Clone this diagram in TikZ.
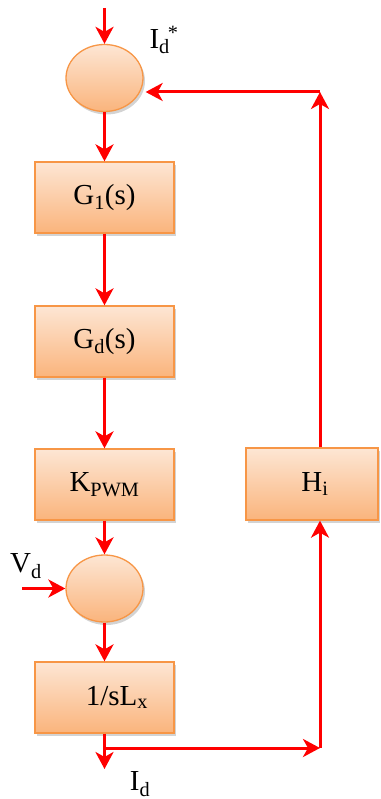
\documentclass[tikz,border=0pt]{standalone}
\usepackage{fontspec}
\setmainfont{Liberation Serif}
\usetikzlibrary{arrows.meta,shadows,shapes.geometric}
\definecolor{bord}{RGB}{247,150,70}
\definecolor{ftop}{RGB}{253,230,212}
\definecolor{fbot}{RGB}{250,180,124}
\definecolor{sig}{RGB}{255,0,0}
\begin{document}
\begin{tikzpicture}[x=1pt,y=-1pt,
  blk/.style={rectangle,draw=bord,line width=1.3pt,top color=ftop,bottom color=fbot,
    minimum width=139pt,minimum height=71pt,inner sep=0pt,
    drop shadow={opacity=0.35,shadow xshift=2pt,shadow yshift=-3pt},
    font=\fontsize{29}{32}\selectfont},
  sumc/.style={ellipse,draw=bord,line width=1.3pt,top color=ftop,bottom color=fbot,
    minimum width=77pt,minimum height=67pt,inner sep=0pt,
    drop shadow={opacity=0.35,shadow xshift=2pt,shadow yshift=-3pt}},
  lbl/.style={font=\fontsize{29}{32}\selectfont,inner sep=0pt},
  sigline/.style={draw=sig,line width=3pt},
  arr/.style={sigline,-{Stealth[length=17pt,width=18pt,inset=5pt]}}
]
\useasboundingbox (0,0) rectangle (380,799);
\node[sumc] (s1) at (104.5,78) {};
\node[blk] (g1) at (104.5,197.5) {G\textsubscript{1}(s)};
\node[blk] (gd) at (104.5,341.5) {G\textsubscript{d}(s)};
\node[blk] (kp) at (104.5,484.5) {K\textsubscript{PWM}};
\node[sumc] (s2) at (104.5,588.5) {};
\node[blk] (lx) at (104.5,697.5) {\hspace*{25pt}1/sL\textsubscript{x}};
\node[blk,minimum width=132pt,minimum height=72pt] (hi) at (312,484) {\hspace*{6pt}H\textsubscript{i}};

\coordinate (tin) at (104.5,8);
\coordinate (vin) at (22,588.5);
\coordinate (out) at (104.5,769);
\coordinate (br) at (104.5,748);
\coordinate (c2) at (320,748);
\coordinate (c1) at (320,92);

\node[lbl] (lid) at (164,40) {I\textsubscript{d}\kern-2pt\textsuperscript{*}};
\node[lbl] (lvd) at (26,566) {V\textsubscript{d}};
\node[lbl] (lio) at (140,784) {I\textsubscript{d}};

\draw[arr] (tin) -- (s1.north);
\draw[arr] (s1.south) -- (g1.north);
\draw[arr] (g1.south) -- (gd.north);
\draw[arr] (gd.south) -- (kp.north);
\draw[arr] (kp.south) -- (s2.north);
\draw[arr] (s2.south) -- (lx.north);
\draw[arr] (vin) -- (s2.west);
\draw[arr] (lx.south) -- (out);
\draw[arr] (br) -- (c2);
\draw[arr] (c2) -- (c2 |- hi.south);
\draw[arr] (c2 |- hi.north) -- (c1);
\draw[arr] (c1) -- ([xshift=2pt]c1 -| s1.east);
\end{tikzpicture}
\end{document}
